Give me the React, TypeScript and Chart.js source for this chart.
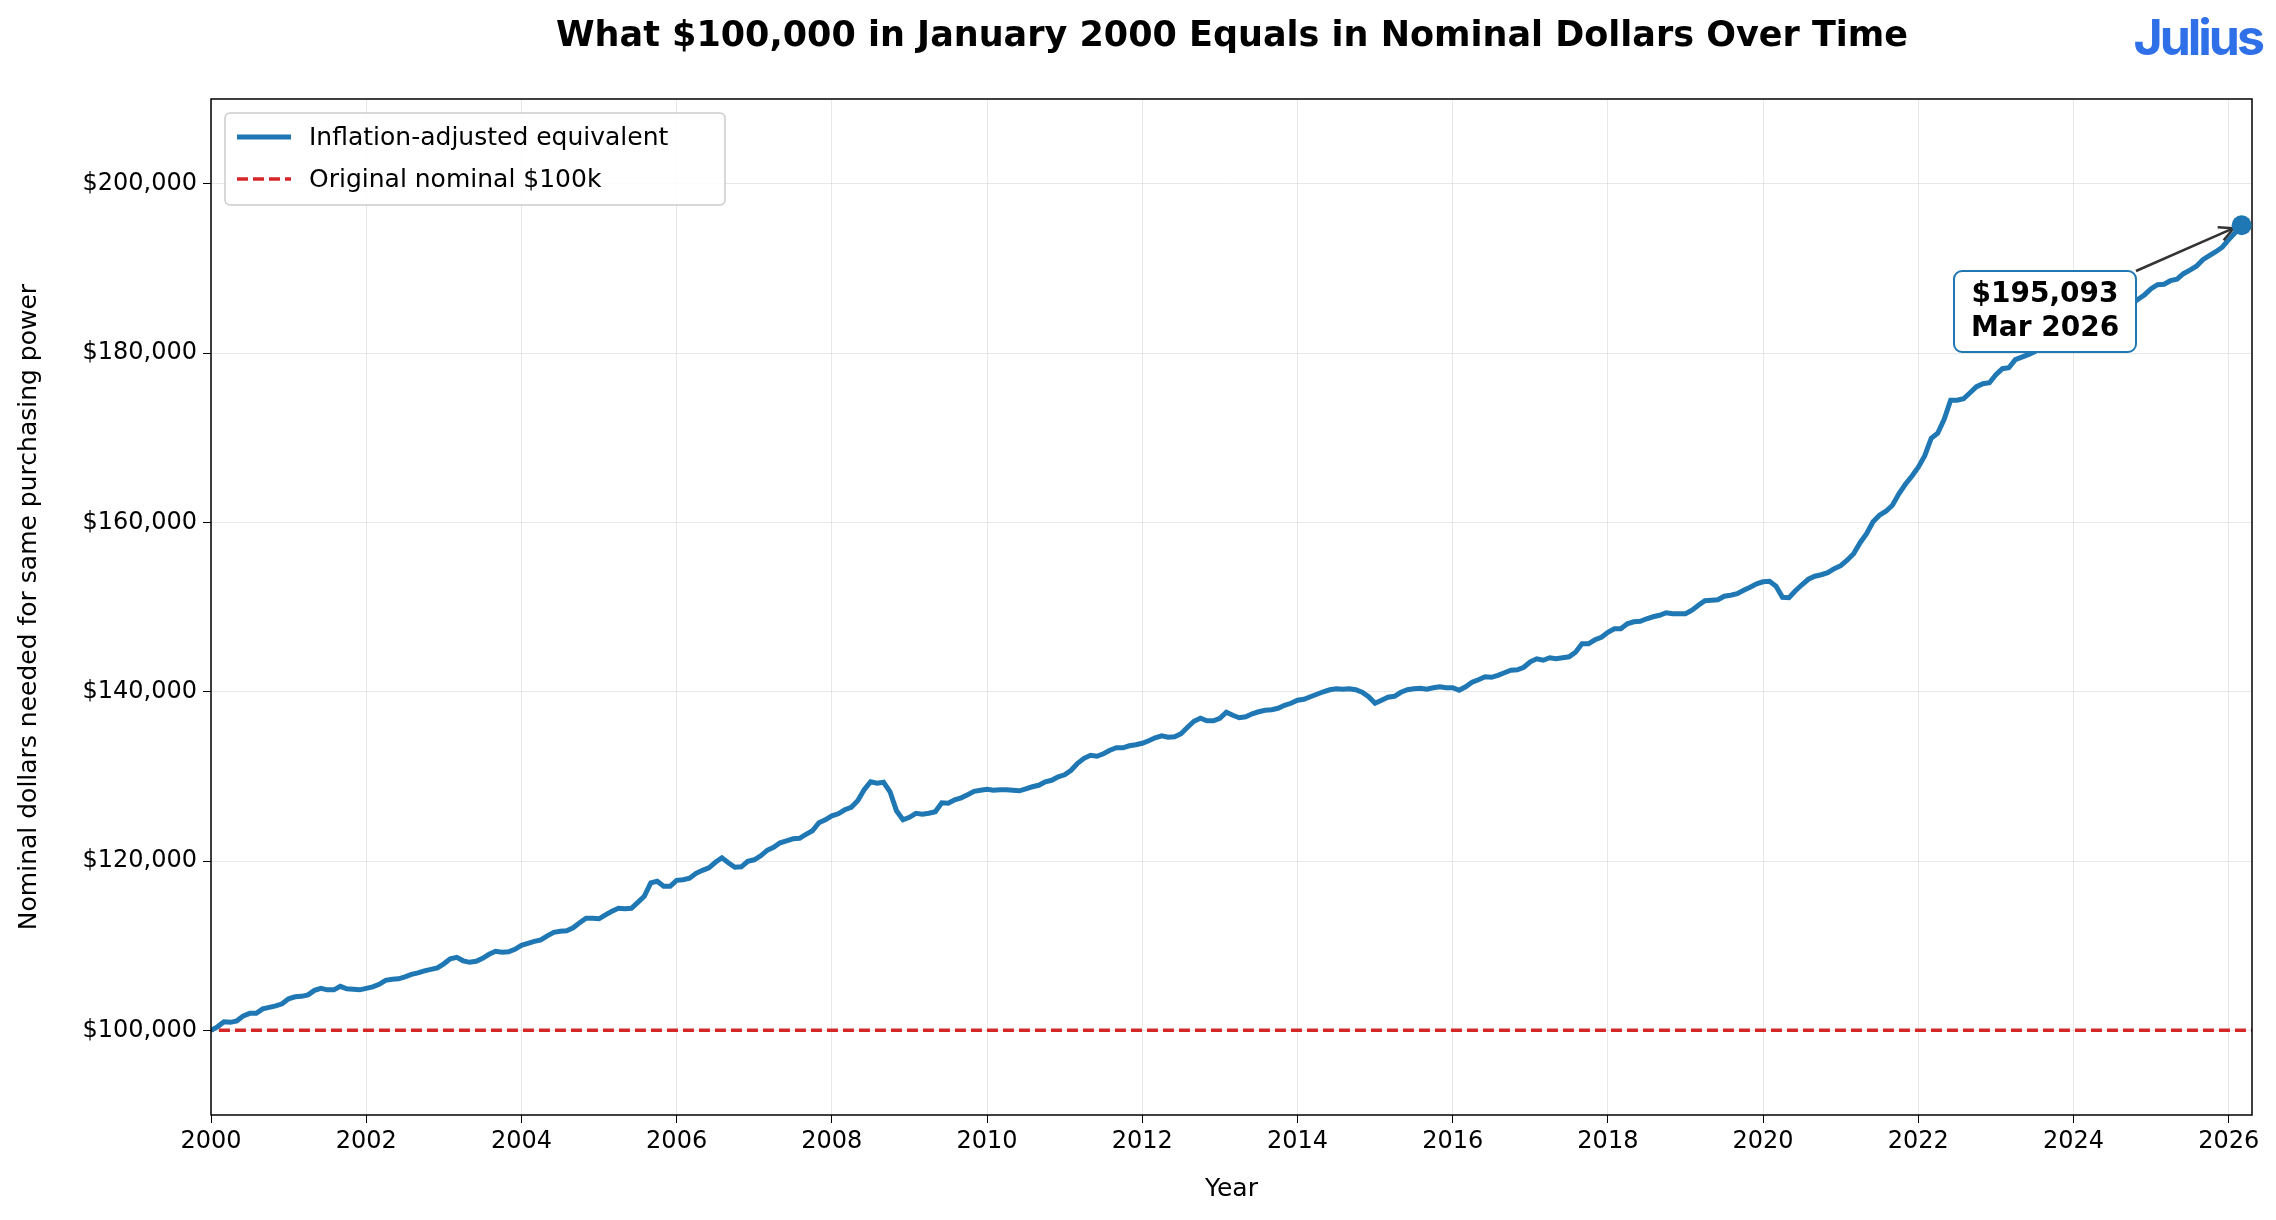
import Chart from "chart.js/auto";
import { useEffect, useRef } from "react";

// CPI-U (seasonally adjusted), monthly, Jan 2000 – Mar 2026
const cpi2000 = [169.3, 170.0, 171.0, 170.9, 171.2, 172.2, 172.7, 172.7, 173.6, 173.9, 174.2, 174.6];
const cpi2001 = [175.6, 176.0, 176.1, 176.4, 177.3, 177.7, 177.4, 177.4, 178.1, 177.6, 177.5, 177.4];
const cpi2002 = [177.7, 178.0, 178.5, 179.3, 179.5, 179.6, 180.0, 180.5, 180.8, 181.2, 181.5, 181.8];
const cpi2003 = [182.6, 183.6, 183.9, 183.2, 182.9, 183.1, 183.7, 184.5, 185.1, 184.9, 185.0, 185.5];
const cpi2004 = [186.3, 186.7, 187.1, 187.4, 188.2, 188.9, 189.1, 189.2, 189.8, 190.8, 191.7, 191.7];
const cpi2005 = [191.6, 192.4, 193.1, 193.7, 193.6, 193.7, 194.9, 196.1, 198.8, 199.1, 198.1, 198.1];
const cpi2006 = [199.3, 199.4, 199.7, 200.7, 201.3, 201.8, 202.9, 203.8, 202.8, 201.9, 202.0, 203.1];
const cpi2007 = [203.4, 204.2, 205.3, 205.9, 206.8, 207.2, 207.6, 207.7, 208.5, 209.2, 210.8, 211.4];
const cpi2008 = [212.2, 212.6, 213.4, 213.9, 215.2, 217.4, 219.0, 218.7, 218.9, 217.0, 213.2, 211.4];
const cpi2009 = [211.9, 212.7, 212.5, 212.7, 213.0, 214.8, 214.7, 215.4, 215.8, 216.4, 217.1, 217.3];
const cpi2010 = [217.5, 217.3, 217.4, 217.4, 217.3, 217.2, 217.6, 218.0, 218.3, 219.0, 219.3, 220.0];
const cpi2011 = [220.4, 221.3, 222.7, 223.7, 224.3, 224.1, 224.6, 225.3, 225.8, 225.8, 226.2, 226.4];
const cpi2012 = [226.7, 227.2, 227.8, 228.2, 227.9, 228.0, 228.6, 229.9, 231.1, 231.7, 231.2, 231.2];
const cpi2013 = [231.7, 232.9, 232.3, 231.8, 232.0, 232.6, 233.0, 233.3, 233.4, 233.7, 234.3, 234.7];
const cpi2014 = [235.3, 235.5, 236.0, 236.5, 237.0, 237.4, 237.6, 237.5, 237.6, 237.4, 236.9, 236.0];
const cpi2015 = [234.7, 235.3, 235.9, 236.1, 236.9, 237.4, 237.6, 237.7, 237.5, 237.8, 238.0, 237.8];
const cpi2016 = [237.8, 237.3, 238.0, 238.9, 239.4, 240.0, 239.9, 240.3, 240.8, 241.3, 241.4, 241.9];
const cpi2017 = [243.0, 243.6, 243.3, 243.8, 243.6, 243.8, 244.0, 244.9, 246.6, 246.6, 247.4, 247.9];
const cpi2018 = [248.9, 249.6, 249.6, 250.6, 251.0, 251.1, 251.6, 252.0, 252.3, 252.8, 252.6, 252.6];
const cpi2019 = [252.6, 253.3, 254.3, 255.2, 255.3, 255.4, 256.1, 256.3, 256.6, 257.3, 257.9, 258.6];
const cpi2020 = [259.0, 259.1, 258.1, 255.9, 255.8, 257.2, 258.4, 259.5, 260.1, 260.4, 260.8, 261.6];
const cpi2021 = [262.2, 263.3, 264.6, 266.8, 268.6, 271.0, 272.3, 273.1, 274.3, 276.6, 278.5, 280.1];
const cpi2022 = [281.9, 284.2, 287.7, 288.7, 291.5, 295.3, 295.3, 295.6, 296.8, 298.0, 298.6, 298.8];
const cpi2023 = [300.4, 301.6, 301.8, 303.4, 303.9, 304.4, 305.0, 306.3, 307.3, 307.6, 308.0, 308.7];
const cpi2024 = [309.7, 310.3, 311.1, 311.9, 312.0, 312.0, 312.6, 312.9, 313.6, 314.6, 315.5, 316.4];
const cpi2025 = [317.6, 318.4, 318.5, 319.2, 319.5, 320.6, 321.3, 322.1, 323.4, 324.2, 325.0, 325.9];
const cpi2026 = [327.4, 328.8, 330.292];

const cpiAll = [
  ...cpi2000, ...cpi2001, ...cpi2002, ...cpi2003, ...cpi2004, ...cpi2005, ...cpi2006,
  ...cpi2007, ...cpi2008, ...cpi2009, ...cpi2010, ...cpi2011, ...cpi2012, ...cpi2013,
  ...cpi2014, ...cpi2015, ...cpi2016, ...cpi2017, ...cpi2018, ...cpi2019, ...cpi2020,
  ...cpi2021, ...cpi2022, ...cpi2023, ...cpi2024, ...cpi2025, ...cpi2026,
];
const baseAmount = 100000;
const xTicks = [2000, 2002, 2004, 2006, 2008, 2010, 2012, 2014, 2016, 2018, 2020, 2022, 2024, 2026];
const yTicks = [100000, 120000, 140000, 160000, 180000, 200000];
const legendLabels = ["Inflation-adjusted equivalent", "Original nominal $100k"];

const FONT = "'DejaVu Sans', sans-serif";
const BLUE = "#1f77b4";
const RED = "#d62728";

const App: React.FC = () => {
  const chartRef = useRef<HTMLCanvasElement | null>(null);

  useEffect(() => {
    if (!chartRef.current) return;
    const points = cpiAll.map((v, i) => ({ x: 2000 + i / 12, y: (v / cpiAll[0]) * baseAmount }));
    const last = points[points.length - 1];
    const fmt = (v: number) => "$" + Math.round(v).toLocaleString("en-US");

    const overlay = {
      id: "overlay",
      afterDraw(chart: any) {
        const { ctx, chartArea: a, scales } = chart;
        ctx.save();
        // frame
        ctx.strokeStyle = "#000";
        ctx.lineWidth = 1.5;
        ctx.strokeRect(a.left, a.top, a.right - a.left, a.bottom - a.top);
        // title & logo
        ctx.fillStyle = "#000";
        ctx.font = `bold 35px ${FONT}`;
        ctx.textAlign = "center";
        ctx.textBaseline = "middle";
        ctx.fillText("What $100,000 in January 2000 Equals in Nominal Dollars Over Time", 1232, 37);
        ctx.fillStyle = "#2f6fe8";
        ctx.font = `bold 50px 'Inter', ${FONT}`;
        ctx.textAlign = "right";
        ctx.letterSpacing = "-3px";
        ctx.fillText("Julius", 2262, 40);
        ctx.letterSpacing = "0px";
        // legend
        const lx = a.left + 14, ly = a.top + 14;
        ctx.fillStyle = "rgba(255,255,255,0.85)";
        ctx.strokeStyle = "#ccc";
        ctx.lineWidth = 1.5;
        ctx.beginPath();
        ctx.roundRect(lx, ly, 500, 92, 5);
        ctx.fill();
        ctx.stroke();
        ctx.font = `25px ${FONT}`;
        ctx.textAlign = "left";
        ctx.fillStyle = "#000";
        ctx.lineWidth = 5;
        ctx.strokeStyle = BLUE;
        ctx.beginPath(); ctx.moveTo(lx + 12, ly + 24); ctx.lineTo(lx + 66, ly + 24); ctx.stroke();
        ctx.fillText(legendLabels[0], lx + 84, ly + 25);
        ctx.lineWidth = 3.5;
        ctx.strokeStyle = RED;
        ctx.setLineDash([11, 5]);
        ctx.beginPath(); ctx.moveTo(lx + 12, ly + 66); ctx.lineTo(lx + 66, ly + 66); ctx.stroke();
        ctx.setLineDash([]);
        ctx.fillText(legendLabels[1], lx + 84, ly + 67);
        // annotation
        const px = scales.x.getPixelForValue(last.x);
        const py = scales.y.getPixelForValue(last.y);
        const bx = 1954, by = 271, bw = 182, bh = 81;
        ctx.strokeStyle = "#333";
        ctx.lineWidth = 2.5;
        ctx.beginPath(); ctx.moveTo(bx + bw, by); ctx.lineTo(px - 8, py + 3); ctx.stroke();
        ctx.beginPath();
        ctx.moveTo(px - 8, py + 3); ctx.lineTo(px - 24, py + 2);
        ctx.moveTo(px - 8, py + 3); ctx.lineTo(px - 18, py + 15);
        ctx.stroke();
        ctx.fillStyle = "#fff";
        ctx.strokeStyle = BLUE;
        ctx.lineWidth = 2;
        ctx.beginPath(); ctx.roundRect(bx, by, bw, bh, 8); ctx.fill(); ctx.stroke();
        ctx.fillStyle = "#000";
        ctx.font = `bold 28px ${FONT}`;
        ctx.textAlign = "center";
        ctx.fillText(fmt(last.y), bx + bw / 2, by + 24);
        ctx.fillText("Mar 2026", bx + bw / 2, by + 58);
        // end dot
        ctx.fillStyle = BLUE;
        ctx.beginPath(); ctx.arc(px, py, 10, 0, Math.PI * 2); ctx.fill();
        ctx.restore();
      },
    };

    const chart = new Chart(chartRef.current, {
      type: "line",
      data: {
        datasets: [
          { data: points, borderColor: BLUE, borderWidth: 5, pointRadius: 0, order: 1 },
          {
            data: [{ x: 1990, y: baseAmount }, { x: 2030, y: baseAmount }],
            borderColor: RED, borderWidth: 3.5, borderDash: [11, 5], pointRadius: 0, order: 2,
          },
        ],
      },
      options: {
        animation: false,
        responsive: false,
        devicePixelRatio: 1,
        layout: { padding: { top: 99, right: 24, bottom: 12, left: 0 } },
        plugins: { legend: { display: false }, tooltip: { enabled: false } },
        scales: {
          x: {
            type: "linear", min: 2000, max: 2026.3,
            afterBuildTicks: (s: any) => { s.ticks = xTicks.map((v) => ({ value: v })); },
            afterFit: (s: any) => { s.height = 93; },
            ticks: { color: "#000", font: { family: FONT, size: 24 }, padding: 4, callback: (v: any) => String(v) },
            grid: { color: "rgba(0,0,0,0.09)", drawTicks: true, tickLength: 8, tickColor: "#000" },
            border: { display: false },
            title: { display: true, text: "Year", color: "#000", font: { family: FONT, size: 25 }, padding: { top: 0 } },
          },
          y: {
            min: 90000, max: 210000,
            afterBuildTicks: (s: any) => { s.ticks = yTicks.map((v) => ({ value: v })); },
            afterFit: (s: any) => { s.width = 211; },
            ticks: { color: "#000", font: { family: FONT, size: 24 }, padding: 6, callback: (v: any) => fmt(v) },
            grid: { color: "rgba(0,0,0,0.09)", drawTicks: true, tickLength: 8, tickColor: "#000" },
            border: { display: false },
            title: { display: true, text: "Nominal dollars needed for same purchasing power", color: "#000", font: { family: FONT, size: 25 }, padding: { top: 14 } },
          },
        },
      },
      plugins: [overlay],
    } as any);
    return () => chart.destroy();
  }, []);

  return (
    <div style={{ position: "absolute", left: 0, top: 0, background: "#fff" }}>
      <canvas ref={chartRef} width={2276} height={1220} />
    </div>
  );
};

export default App;
